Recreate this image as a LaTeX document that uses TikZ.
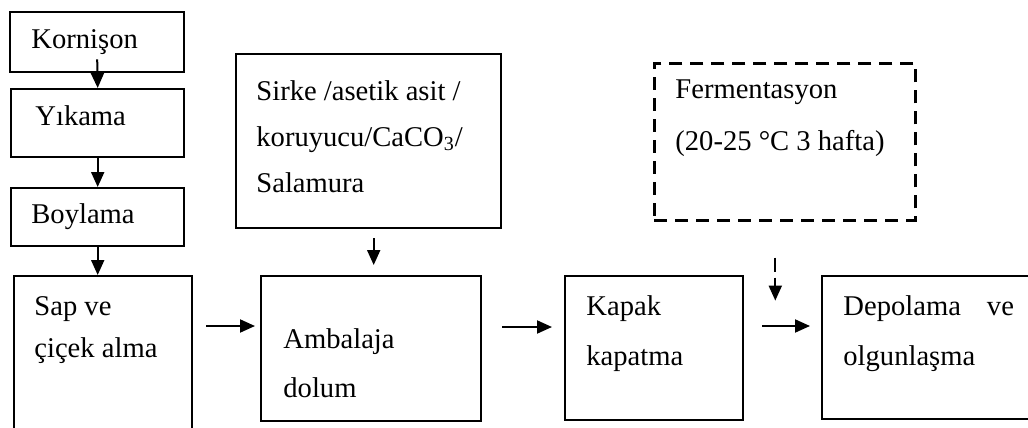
\documentclass[tikz,border=0pt]{standalone}
\usepackage{fontspec}
\setmainfont{Liberation Serif}
\usetikzlibrary{arrows.meta}

\tikzset{
  box/.style={draw, line width=1.2pt, anchor=north west, inner sep=0pt},
  dbox/.style={box, dash pattern=on 6.5pt off 4pt, line width=1.3pt},
  txt/.style={anchor=base west, align=left, inner sep=0pt, font=\fontsize{14.3}{#1}\selectfont},
  txt/.default=21pt,
  arr/.style={-{Triangle[length=7.5pt,width=6.5pt]}, line width=1pt},
}

\begin{document}
\begin{tikzpicture}[x=0.5pt,y=-0.5pt]
   \useasboundingbox (0,0) rectangle (1028,428);

   % left column
   \node[box, minimum width=87pt, minimum height=30pt] (korn) at (9,11) {};
   \node[box, minimum width=86.5pt, minimum height=34pt] (yik) at (10,88) {};
   \node[box, minimum width=86.5pt, minimum height=29pt] (boy) at (10,187) {};
   \node[box, minimum width=89pt, minimum height=82.5pt] (sap) at (13,275) {};

   \node[txt] (kornt) at (31,48) {Korni\c{s}on};
   \node[txt] (yikt) at (35,125) {Y\i kama};
   \node[txt] (boyt) at (31,223) {Boylama};
   \node[txt=21pt] (sapt) at (34,357) {Sap ve\\çiçek alma};

   % bottom row
   \node[box, minimum width=110pt, minimum height=72.5pt] (amb) at (260,275) {};
   \node[box, minimum width=89pt, minimum height=72pt] (kapak) at (564,275) {};
   \node[box, minimum width=107pt, minimum height=71.5pt] (depo) at (821,275) {};

   \node[txt=24.5pt] (ambt) at (283,397) {Ambalaja\\dolum};
   \node[txt=25pt] (kapakt) at (586,365) {Kapak\\kapatma};
   \node[txt=25pt] (depot) at (843,365) {Depolama\hspace{13pt}ve\\olgunlaşma};

   % additions
   \node[box, minimum width=132.5pt, minimum height=87pt] (sirke) at (235,53) {};
   \node[txt=23pt] (sirket) at (256,192) {Sirke /asetik asit /\\koruyucu/CaCO\textsubscript{3}/\\Salamura};

   \node[dbox, minimum width=130.5pt, minimum height=78.5pt] (ferm) at (653,62) {};
   \node[txt=26pt] (fermt) at (675,150) {Fermentasyon\\(20-25 °C 3 hafta)};

   % arrows
   \draw[arr] ([yshift=7pt]korn.south) -- (yik.north);
   \draw[arr] (yik.south) -- (boy.north);
   \draw[arr] (boy.south) -- (boy.south |- sap.north);
   \draw[arr] ([shift={(2.5pt,-4.5pt)}]sirke.south) -- ([shift={(1.25pt,5pt)}]amb.north);

   \draw[arr] ([shift={(6.5pt,-25.5pt)}]sap.north east) -- ([shift={(-2.5pt,-25.5pt)}]amb.north west);
   \draw[arr] ([shift={(10pt,-26pt)}]amb.north east) -- ([shift={(-6pt,-26pt)}]kapak.north west);
   \draw[arr] ([shift={(9pt,-25.5pt)}]kapak.north east) -- ([shift={(-5.5pt,-25.5pt)}]depo.north west);
   \draw[arr, dash pattern=on 7pt off 3pt] ([shift={(-4.75pt,-18pt)}]ferm.south) -- ([shift={(-4.75pt,-39.5pt)}]ferm.south);

\end{tikzpicture}
\end{document}
